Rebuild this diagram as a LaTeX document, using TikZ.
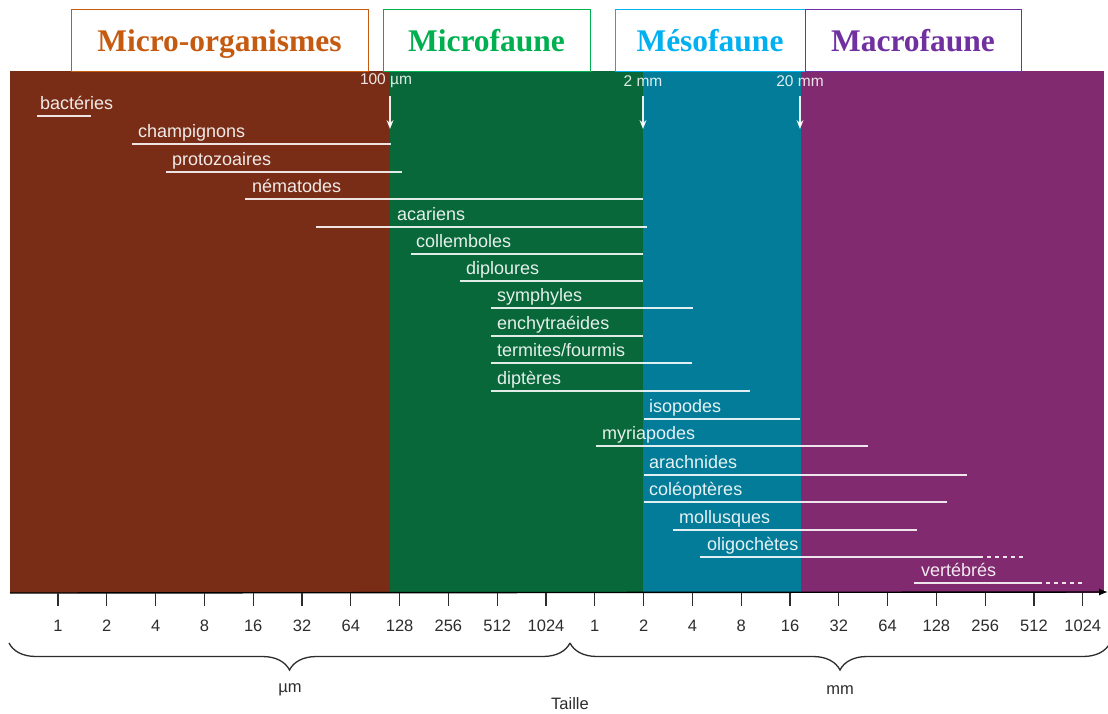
\documentclass[tikz,border=0pt]{standalone}
\usepackage{fontspec}
\setmainfont{Liberation Sans}
\newfontfamily\hdrfont{Liberation Serif}
\usetikzlibrary{arrows.meta,decorations.pathreplacing}
\definecolor{cbrown}{RGB}{121,45,22}
\definecolor{cgreen}{RGB}{8,104,58}
\definecolor{cteal}{RGB}{2,124,152}
\definecolor{cpurple}{RGB}{129,42,111}
\definecolor{horange}{RGB}{197,90,17}
\definecolor{hgreen}{RGB}{0,176,80}
\definecolor{hblue}{RGB}{0,176,240}
\definecolor{hpurple}{RGB}{112,48,160}
\definecolor{axgray}{RGB}{45,45,45}
\tikzset{
  hdrbox/.style={draw, line width=0.9pt, fill=white, inner sep=0pt, text height=23pt, text depth=0pt,
     font=\hdrfont\bfseries\fontsize{31.5}{34}\selectfont},
  bar/.style={draw=white, draw opacity=0.88, line width=1.8pt},
  barext/.style={bar, dash pattern=on 4pt off 4pt},
  barlbl/.style={anchor=base west, inner sep=0pt, text=white, text opacity=0.9,
     font=\fontsize{18}{20}\selectfont},
  mklbl/.style={inner sep=0pt, text=white, text opacity=0.88, font=\fontsize{15.5}{17}\selectfont},
  wharrow/.style={draw=white, draw opacity=0.9, line width=1.3pt, -{Stealth[length=9pt,width=7pt,inset=3pt]}},
  axisline/.style={draw=black, line width=1.4pt, -{Latex[length=9pt,width=7pt]}},
  tickmark/.style={draw=axgray, line width=1.2pt},
  ticklbl/.style={anchor=base, inner sep=0pt, text=axgray, font=\fontsize{16.5}{18}\selectfont},
  bracestyle/.style={draw=axgray, line width=1.3pt, decorate, decoration={brace, mirror, amplitude=27pt}},
  unitlbl/.style={inner sep=0pt, text=axgray, font=\fontsize{16.5}{18}\selectfont}
}
\begin{document}
\begin{tikzpicture}[x=1pt,y=-1pt]
\useasboundingbox[fill=white] (0,0) rectangle (1108,713);
% coloured bands
\fill[cbrown] (10,71) rectangle (390,593);
\fill[cgreen] (390,71) rectangle (643,593);
\fill[cteal] (643,71) rectangle (801,593);
\fill[cpurple] (801,71) rectangle (1104,593);
% header boxes
\node[hdrbox, draw=horange, text=horange, minimum width=297pt, minimum height=62pt] (hmicro) at (219.5,40) {Micro-organismes};
\node[hdrbox, draw=hgreen, text=hgreen, minimum width=207pt, minimum height=62pt] (hmicrof) at (486.5,40) {Microfaune};
\node[hdrbox, draw=hblue, text=hblue, minimum width=190pt, minimum height=62pt] (hmeso) at (710,40) {Mésofaune};
\node[hdrbox, draw=hpurple, text=hpurple, minimum width=216pt, minimum height=62pt] (hmacro) at (913,40) {Macrofaune};
% size markers
\node[mklbl] (m100) at (386,81) {100 µm};
\node[mklbl] (m2) at (643,81) {2 mm};
\node[mklbl] (m20) at (800,81) {20 mm};
\coordinate (t100) at (390,96); \coordinate (a100) at (390,129);
\coordinate (t2) at (643,96); \coordinate (a2) at (643,129);
\coordinate (t20) at (800,96); \coordinate (a20) at (800,129);
\draw[wharrow] (t100) -- (a100);
\draw[wharrow] (t2) -- (a2);
\draw[wharrow] (t20) -- (a20);
% taxa bars
\foreach \t/\tx/\a/\b/\ly [count=\i] in {
  bactéries/40/37/91/116,
  champignons/138/132/391/144,
  protozoaires/172/166/402/172,
  nématodes/252/245/643/199,
  acariens/397/316/647/227,
  collemboles/416/411/643/254,
  diploures/466/460/643/281,
  symphyles/497/491/693/308,
  enchytraéides/497/491/643/336,
  {termites/fourmis}/497/491/692/363,
  diptères/497/491/750/391,
  isopodes/649/644/800/419,
  myriapodes/602/596/868/446,
  arachnides/649/644/967/475,
  coléoptères/649/644/947/502,
  mollusques/679/673/917/530,
  oligochètes/707/700/979/557,
  vertébrés/921/914/1038/583}{
  \coordinate (s\i) at (\a,\ly);
  \coordinate (e\i) at (\b,\ly);
  \draw[bar] (s\i) -- (e\i);
  \node[barlbl] (l\i) at (\tx,\ly-7) {\t};
}
\coordinate (d17) at (1026,557);
\coordinate (d18) at (1085,583);
\draw[barext] (e17) -- (d17);
\draw[barext] (e18) -- (d18);
% axis
\coordinate (axL) at (10,593);
\coordinate (axR) at (1108,592);
\draw[axisline] (axL) -- (axR);
\foreach \v [count=\k from 0] in {1,2,4,8,16,32,64,128,256,512,1024,1,2,4,8,16,32,64,128,256,512,1024}{
  \coordinate (tk\k) at (58+48.8*\k,593);
  \draw[tickmark] (tk\k) -- ++(0,13);
  \node[ticklbl] (tl\k) at (58+48.8*\k,631) {\v};
}
% braces
\coordinate (b1l) at (9,643); \coordinate (b1r) at (570,643);
\coordinate (b2l) at (570,643); \coordinate (b2r) at (1110,643);
\draw[bracestyle] (b1l) -- (b1r);
\draw[bracestyle] (b2l) -- (b2r);
\node[unitlbl] (um) at (290,690) {µm};
\node[unitlbl] (mm) at (840,690) {mm};
\node[unitlbl] (taille) at (570,704) {Taille};
\end{tikzpicture}
\end{document}
